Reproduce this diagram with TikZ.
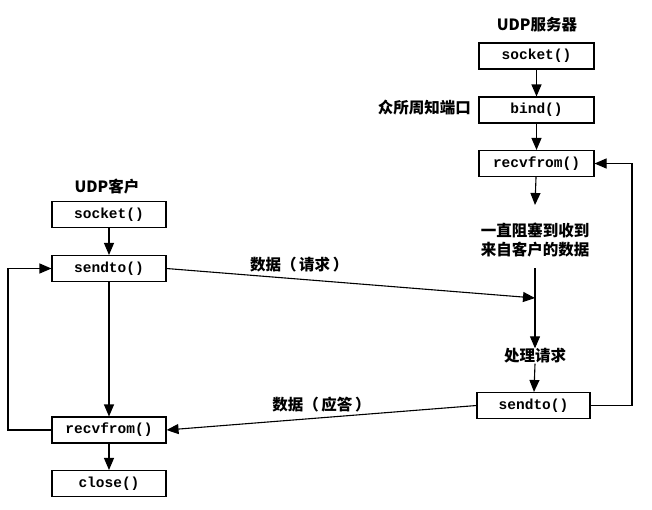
\documentclass[tikz,border=0pt]{standalone}
\usepackage{fontspec}
\setmonofont{Liberation Mono}
\newfontfamily\cjk{Noto Sans CJK SC}
\usetikzlibrary{arrows.meta}
\begin{document}
\begin{tikzpicture}[x=1pt,y=-1pt,
  fbox/.style={draw,line width=1.1pt,minimum width=115pt,minimum height=26pt,inner sep=0pt,font=\ttfamily\bfseries\fontsize{14.5}{14.5}\selectfont},
  lbl/.style={font=\cjk\bfseries\fontsize{15.5}{19}\selectfont,inner sep=0pt,align=center},
  conn/.style={line width=1.1pt,-{Triangle[length=12pt,width=10pt]}},
  plain/.style={line width=1.1pt}]
\useasboundingbox (0,0) rectangle (652,509);
% server
\node[lbl] (stitle) at (537,25) {UDP服务器};
\node[fbox] (ssock) at (536.5,56) {socket()};
\node[fbox] (sbind) at (536.5,110) {bind()};
\node[lbl,anchor=east] (port) at (471,108) {众所周知端口};
\node[fbox] (srecv) at (536.5,163.5) {recvfrom()};
\node[lbl] (block) at (535,240) {一直阻塞到收到\\来自客户的数据};
\coordinate (blk) at (535,205);
\coordinate (vtop) at (535,268);
\coordinate (hit) at (535,298);
\node[lbl] (proc) at (535,356) {处理请求};
\node[fbox,minimum width=113pt] (ssend) at (533.5,405.5) {sendto()};
\coordinate (rr) at (632,405.5);
\coordinate (rt) at (632,163.5);
% client
\node[lbl] (ctitle) at (107,187) {UDP客户};
\node[fbox,minimum width=114pt] (csock) at (109,214.5) {socket()};
\node[fbox,minimum width=114pt] (csend) at (109,268.5) {sendto()};
\node[fbox,minimum width=114pt] (crecv) at (109,430) {recvfrom()};
\node[fbox,minimum width=114pt] (cclose) at (109,483.5) {close()};
\coordinate (ll) at (8,430);
\coordinate (lt) at (8,268.5);
% arrows
\draw[conn] (ssock) -- (sbind);
\draw[conn] (sbind) -- (srecv);
\draw[conn] (srecv) -- (blk);
\draw[plain] (vtop) -- (hit);
\draw[conn] (hit) -- (proc.north);
\draw[conn] (proc.south) -- (ssend);
\draw[conn] (ssend.east) -- (rr) -- (rt) -- (srecv.east);
\draw[conn] (csock) -- (csend);
\draw[conn] (csend) -- (crecv);
\draw[conn] (crecv) -- (cclose);
\draw[conn] (crecv.west) -- (ll) -- (lt) -- (csend.west);
\draw[conn] (csend.east) -- node[lbl,pos=0.36,above=6pt] (req) {数据（\,请求\,）} (hit);
\draw[conn] (ssend.west) -- node[lbl,pos=0.5,above=5pt] (rep) {数据（\,应答\,）} (crecv.east);
\end{tikzpicture}
\end{document}
